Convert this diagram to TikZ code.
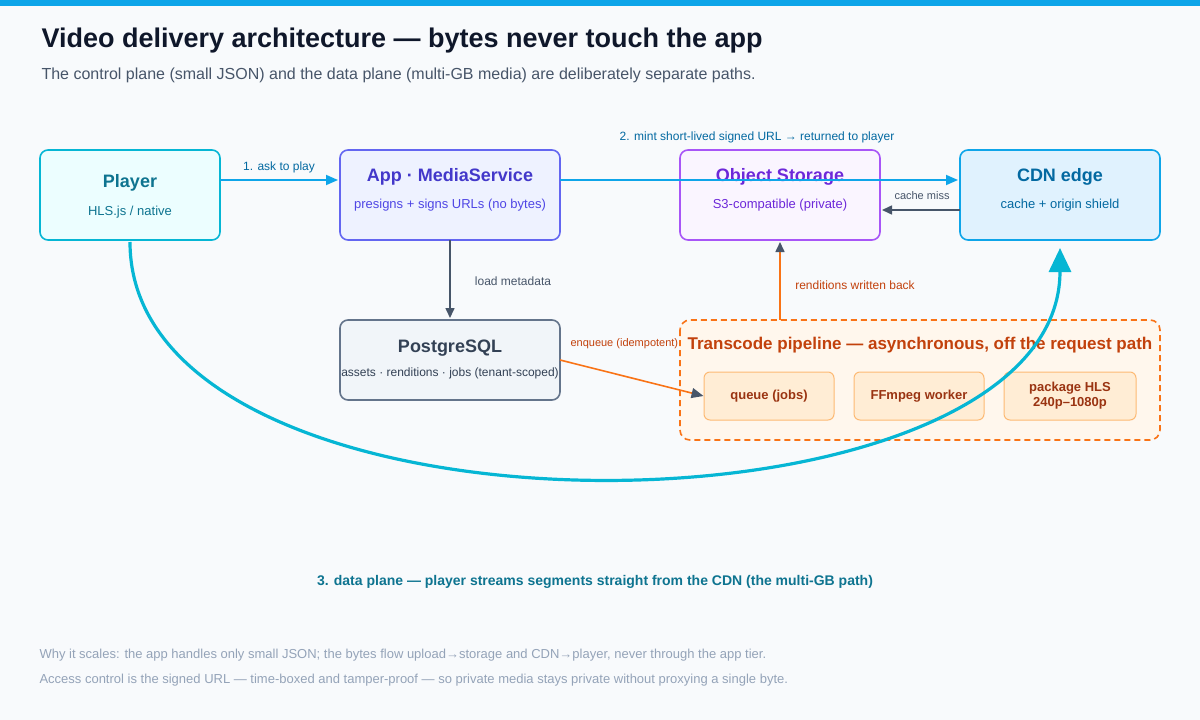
\documentclass[tikz,border=0pt]{standalone}
\usepackage{fontspec}
\setmainfont{Liberation Sans}
\usetikzlibrary{arrows.meta}
\definecolor{bgc}{HTML}{F8FAFC}
\definecolor{barc}{HTML}{0EA5E9}
\definecolor{ttl}{HTML}{0F172A}
\definecolor{subc}{HTML}{475569}
\definecolor{plyB}{HTML}{06B6D4}\definecolor{plyF}{HTML}{ECFEFF}\definecolor{plyT}{HTML}{0E7490}
\definecolor{appB}{HTML}{6366F1}\definecolor{appF}{HTML}{EEF2FF}\definecolor{appT}{HTML}{4338CA}\definecolor{appS}{HTML}{4F46E5}
\definecolor{objB}{HTML}{A855F7}\definecolor{objF}{HTML}{FAF5FF}\definecolor{objT}{HTML}{6D28D9}
\definecolor{cdnB}{HTML}{0EA5E9}\definecolor{cdnF}{HTML}{E0F2FE}\definecolor{cdnT}{HTML}{0369A1}
\definecolor{pgB}{HTML}{64748B}\definecolor{pgF}{HTML}{F1F5F9}\definecolor{pgT}{HTML}{334155}
\definecolor{trB}{HTML}{F97316}\definecolor{trF}{HTML}{FFF7ED}\definecolor{trT}{HTML}{C2410C}
\definecolor{stF}{HTML}{FFEDD5}\definecolor{stB}{HTML}{FDBA74}\definecolor{stT}{HTML}{9A3412}
\definecolor{foot}{HTML}{94A3B8}
\begin{document}
\begin{tikzpicture}[x=1pt,y=-1pt,
  box/.style={rounded corners=8pt,line width=1.6pt},
  stage/.style={draw=stB,fill=stF,rounded corners=6pt,line width=1pt,minimum width=130pt,minimum height=48pt,
    text=stT,font=\fontsize{13}{15}\selectfont\bfseries,align=center},
  head/.style={font=\fontsize{18}{20}\selectfont\bfseries},
  sub/.style={font=\fontsize{13}{15}\selectfont},
  lbl/.style={font=\fontsize{12}{14}\selectfont},
  ctl/.style={barc,line width=1.8pt,-{Triangle[length=12pt,width=10pt]}},
  gry/.style={subc,line width=1.6pt,-{Triangle[length=10pt,width=9pt]}}]
  % -=-=-=-=- BACKGROUND -=-=-=-=-
  \fill[bgc] (0,0) rectangle (1200,720);
  \fill[barc] (0,0) rectangle (1200,6);
  \node[anchor=west,text=ttl,font=\fontsize{27}{30}\selectfont\bfseries] (title) at (38,41) {Video delivery architecture — bytes never touch the app};
  \node[anchor=west,text=subc,font=\fontsize{16}{18}\selectfont] (subtitle) at (38,75) {The control plane (small JSON) and the data plane (multi-GB media) are deliberately separate paths.};
  % -=-=-=-=- BOXES -=-=-=-=-
  \draw[box,draw=plyB,fill=plyF] (40,150) rectangle (220,240);
  \node[head,text=plyT] (player) at (130,183) {Player};
  \node[sub,text=plyT] (playersub) at (130,212) {HLS.js / native};
  \draw[box,draw=appB,fill=appF] (340,150) rectangle (560,240);
  \node[head,text=appT] (app) at (450,177) {App · MediaService};
  \node[sub,text=appS] (appsub) at (450,205) {presigns + signs URLs (no bytes)};
  \draw[box,draw=objB,fill=objF] (680,150) rectangle (880,240);
  \node[head,text=objT] (obj) at (780,177) {Object Storage};
  \node[sub,text=objT] (objsub) at (780,205) {S3-compatible (private)};
  \draw[box,draw=cdnB,fill=cdnF] (960,150) rectangle (1160,240);
  \node[head,text=cdnT] (cdn) at (1060,177) {CDN edge};
  \node[sub,text=cdnT] (cdnsub) at (1060,205) {cache + origin shield};
  \draw[box,draw=pgB,fill=pgF] (340,320) rectangle (560,400);
  \node[head,text=pgT] (pg) at (450,348) {PostgreSQL};
  \node[sub,text=pgT,font=\fontsize{12}{14}\selectfont] (pgsub) at (450,373) {assets · renditions · jobs (tenant-scoped)};
  % -=-=-=-=- CONTROL PLANE -=-=-=-=-
  \coordinate (appE) at (560,180);
  \coordinate (cdnW) at (958,180);
  \draw[ctl] (220,180) -- (338,180) node[midway,above=3pt,lbl,text=cdnT] (ask) {1. ask to play};
  \draw[ctl] (appE) -- (cdnW);
  \node[lbl,text=cdnT,font=\fontsize{12}{14}\selectfont] (mint) at (757,137) {2. mint short-lived signed URL → returned to player};
  \draw[gry] (960,210) -- (882,210);
  \node[lbl,text=subc,font=\fontsize{11}{13}\selectfont] (miss) at (922,196) {cache miss};
  \draw[gry] (450,240) -- (450,318);
  \node[lbl,text=subc] (meta) at (513,281) {load metadata};
  \draw[trB,line width=1.6pt,-{Triangle[length=10pt,width=9pt,fill=subc,color=subc]}] (780,320) -- (780,242);
  \node[lbl,text=trT] (back) at (855,285) {renditions written back};
  \node[anchor=west,text=trT,font=\fontsize{11}{13}\selectfont] (enq) at (567,344) {enqueue (idempotent)};
  % -=-=-=-=- PIPELINE -=-=-=-=-
  \draw[trB,fill=trF,dashed,line width=1.6pt,rounded corners=10pt,dash pattern=on 6pt off 4pt] (680,320) rectangle (1160,440);
  \node[text=trT,font=\fontsize{17}{19}\selectfont\bfseries] (pipe) at (920,345) {Transcode pipeline — asynchronous, off the request path};
  \node[stage] (queue) at (769,396) {queue (jobs)};
  \node[stage] (ffmpeg) at (919,396) {FFmpeg worker};
  \node[stage,minimum width=132pt] (pkg) at (1070,396) {package HLS\\240p–1080p};
  \draw[trB,line width=1.6pt,-{Triangle[length=12pt,width=10pt,fill=subc,color=subc]}] (560,360) -- (queue.west);
  % -=-=-=-=- DATA PLANE -=-=-=-=-
  \draw[plyB,line width=3.2pt,-{Triangle[length=24pt,width=22pt]}] (130,242) .. controls (130,560) and (1060,550) .. (1060,248);
  \node[text=plyT,font=\fontsize{14}{16}\selectfont\bfseries] (data) at (595,582) {3. data plane — player streams segments straight from the CDN (the multi-GB path)};
  \node[anchor=west,text=foot,font=\fontsize{13}{15}\selectfont] (why) at (36,655) {Why it scales: the app handles only small JSON; the bytes flow upload→storage and CDN→player, never through the app tier.};
  \node[anchor=west,text=foot,font=\fontsize{13}{15}\selectfont] (acc) at (36,680) {Access control is the signed URL — time-boxed and tamper-proof — so private media stays private without proxying a single byte.};
\end{tikzpicture}
\end{document}
